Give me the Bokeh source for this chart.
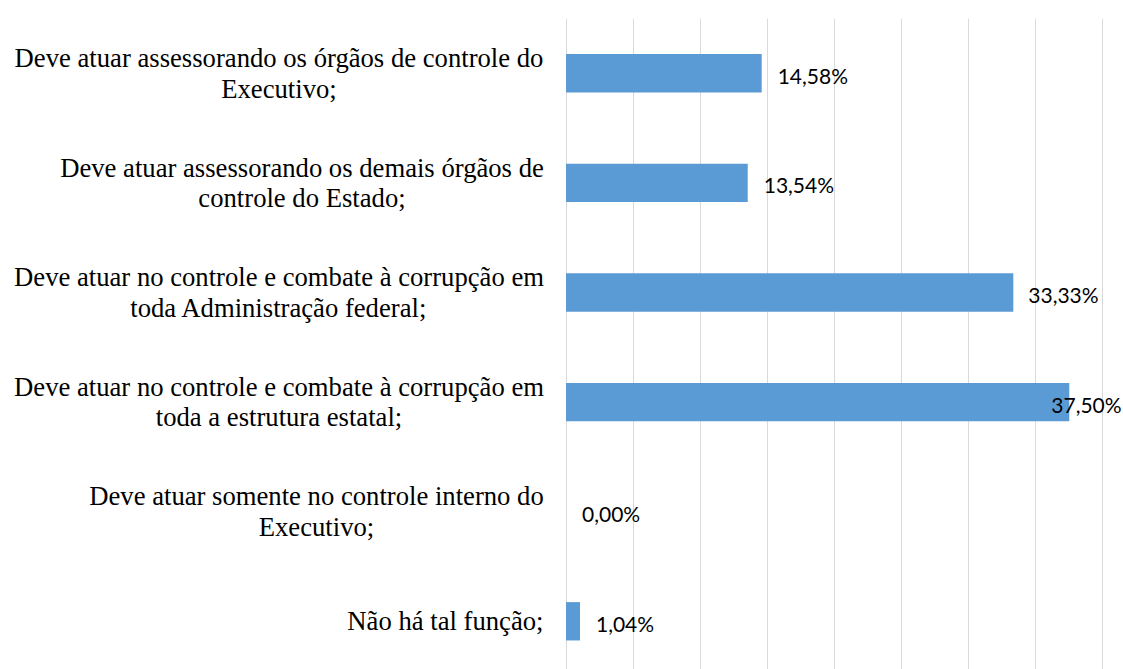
from bokeh.plotting import figure
from bokeh.models import Range1d, FixedTicker, Label, LabelSet, ColumnDataSource, Grid
from bokeh.core.properties import value
from bokeh.embed import file_html
from bokeh.resources import INLINE

# ---- data ----
categories = [
    "Deve atuar assessorando os órgãos de controle do\nExecutivo;",
    "Deve atuar assessorando os demais órgãos de\ncontrole do Estado;",
    "Deve atuar no controle e combate à corrupção em\ntoda Administração federal;",
    "Deve atuar no controle e combate à corrupção em\ntoda a estrutura estatal;",
    "Deve atuar somente no controle interno do\nExecutivo;",
    "Não há tal função;",
]
values = [14.58, 13.54, 33.33, 37.50, 0.00, 1.04]
value_labels = ["14,58%", "13,54%", "33,33%", "37,50%", "0,00%", "1,04%"]
x_ticks = [0, 5, 10, 15, 20, 25, 30, 35, 40]

# ---- layout (screen px from canvas left) ----
label_right = 543
label_centers = [278.5, 301.5, 278.5, 278.5, 316, None]
label_offsets = [16, 16, 15, -18, 16, 16]
line_gap = 15.3

y_pos = list(range(len(categories)))
src = ColumnDataSource(dict(y=y_pos, value=values, label=value_labels, off=label_offsets))

p = figure(width=1123, height=669, output_backend="svg", toolbar_location=None,
           x_range=Range1d(-42.14, 41.54), y_range=Range1d(5.44, -0.5),
           min_border_left=0, min_border_right=0, min_border_top=18, min_border_bottom=0,
           x_axis_location=None, y_axis_location=None)
p.outline_line_color = None
p.background_fill_color = "white"
p.border_fill_color = "white"
p.grid.visible = False

grid = Grid(dimension=0, ticker=FixedTicker(ticks=x_ticks),
            grid_line_color="#d9d9d9", grid_line_width=1)
p.add_layout(grid)

p.hbar(y="y", left=0, right="value", height=0.35, source=src,
       fill_color="#5b9bd5", line_color=None)

p.add_layout(LabelSet(x="value", y="y", text="label", x_offset="off", y_offset=-2,
                      source=src, text_font=value("Lato"), text_font_size="21px",
                      text_baseline="middle", text_color="black"))

for i, cat in enumerate(categories):
    lines = cat.split("\n")
    if len(lines) == 1:
        p.add_layout(Label(x=label_right, x_units="screen", y=i, text=lines[0],
                           text_align="right", text_baseline="middle",
                           text_font="Liberation Serif", text_font_size="26.67px",
                           text_color="black"))
    else:
        n = len(lines)
        for k, ln in enumerate(lines):
            off = line_gap * (n - 1) - 2 * line_gap * k
            p.add_layout(Label(x=label_centers[i], x_units="screen", y=i, y_offset=off,
                               text=ln, text_align="center", text_baseline="middle",
                               text_font="Liberation Serif", text_font_size="26.67px",
                               text_color="black"))

open("out.html", "w").write(file_html(p, INLINE))
